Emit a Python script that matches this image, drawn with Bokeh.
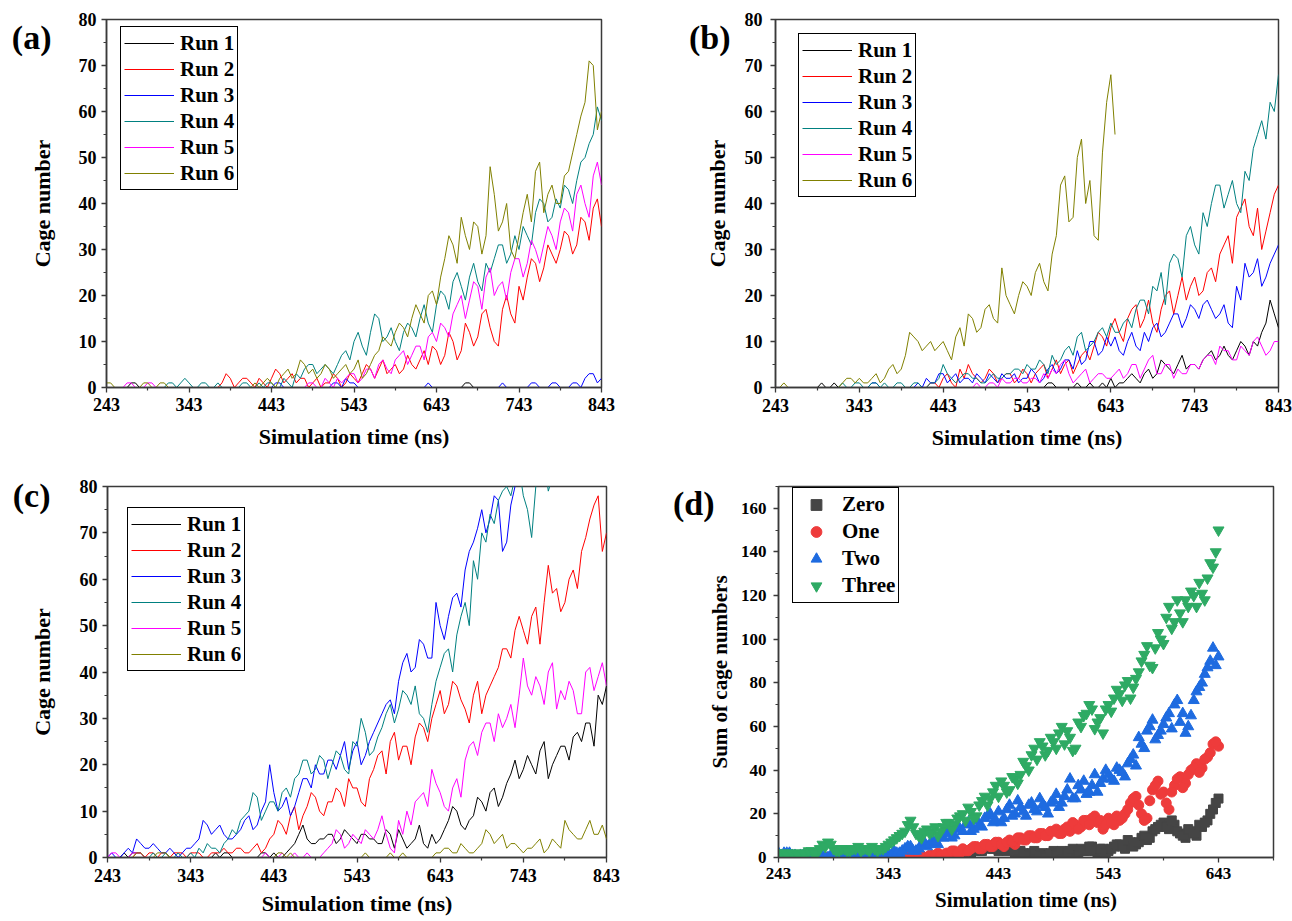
from bokeh.plotting import figure
from bokeh.models import Range1d, FixedTicker, LinearAxis
from bokeh.layouts import column, row
from bokeh.embed import file_html
from bokeh.resources import INLINE

nan = float("nan")
FONT = "Liberation Serif"

# ---------------- data ----------------
time_runs = list(range(243, 844, 10))       # 61 sample times, panels a-c
time_runs_mid = list(range(248, 839, 10))   # 60 in-between sample times, panels a-c
time_sum = list(range(243, 644, 5))         # 81 sample times, panel d
time_sum_mid = [t + 2.5 for t in range(243, 641, 5)]  # 80 in-between sample times

run_labels = ["Run 1", "Run 2", "Run 3", "Run 4", "Run 5", "Run 6"]
run_colors = ["#000000", "#FF0000", "#0000FF", "#008080", "#FF00FF", "#808000"]

x_ticks_runs = [243, 343, 443, 543, 643, 743, 843]
x_minor_runs = [293, 393, 493, 593, 693, 793]
y_ticks_runs = [0, 10, 20, 30, 40, 50, 60, 70, 80]
y_minor_runs = [5, 15, 25, 35, 45, 55, 65, 75]

x_ticks_sum = [243, 343, 443, 543, 643]
x_minor_sum = [293, 393, 493, 593, 693]
y_ticks_sum = [0, 20, 40, 60, 80, 100, 120, 140, 160]
y_minor_sum = [10, 30, 50, 70, 90, 110, 130, 150, 170]

# panel (a)
a_run1 = [0,0,0,1,0,0,0,0,0,0, 0,0,0,0,0,0,0,0,0,0, 0,0,0,0,0,0,0,0,0,0,
          0,0,0,0,0,0,0,0,0,0, 0,0,0,0,1,0,0,0,0,0, 0,0,0,0,0,0,0,0,0,0, 0]
a_run1_mid = [0,0,0,1,0,0,0,0,0,0, 0,0,0,0,0,0,0,0,0,0, 0,0,0,0,0,0,0,0,0,0,
              0,0,0,0,0,0,0,0,0,0, 0,0,0,1,0,0,0,0,0,0, 0,0,0,0,0,0,0,0,0,0]
a_run2 = [0,0,0,0,0,0,0,0,0,0,
          0,0,0,0,1,2,1,2,0,1,
          2,3,2,1,2,1,0,1,2,1,
          2,3,4,4,3,5,4,5,6,5,
          8,7,10,8,12,11,17,10,17,16,
          22,24,27,26,29,30,33,31,36,39, 35]
a_run2_mid = [0,0,0,0,0,0,0,0,0,0,
              0,0,0,0,3,0,2,1,2,0,
              4,1,3,2,0,2,1,3,0,3,
              1,5,2,6,4,3,7,4,8,9,
              5,12,6,14,9,16,13,9,20,14,
              19,28,23,31,27,34,29,37,32,41]
a_run3 = [0,0,0,0,0,0,0,0,0,0,
          0,0,0,0,0,0,0,0,0,0,
          0,1,0,0,0,0,0,0,1,2,
          1,0,0,0,0,0,0,0,0,1,
          0,0,0,0,0,0,0,0,1,0,
          0,0,1,0,1,0,0,1,2,3, 2]
a_run3_mid = [0,0,0,0,0,0,0,0,0,0,
              0,0,0,0,0,0,0,0,0,0,
              1,0,0,0,0,0,0,1,0,1,
              0,0,0,0,0,0,0,0,0,0,
              0,0,0,0,0,0,0,0,0,0,
              0,1,0,0,1,0,1,0,3,1]
a_run4 = [0,0,0,0,0,0,0,0,1,1,
          1,0,1,0,0,0,0,1,0,0,
          1,0,1,3,4,5,4,4,5,8,
          10,9,12,15,11,10,12,13,15,14,
          18,20,23,22,24,23,27,28,31,29,
          30,33,38,40,37,39,43,45,50,55, 58]
a_run4_mid = [0,0,0,0,0,0,0,1,0,2,
              0,1,0,1,0,0,1,0,1,1,
              0,2,0,2,5,3,5,3,7,6,
              12,7,16,10,13,8,14,11,18,12,
              21,17,25,19,27,21,25,31,27,33,
              35,31,41,36,41,44,40,49,53,61]
a_run5 = [0,0,0,1,0,1,0,0,0,0,
          0,0,0,0,0,0,0,0,0,0,
          0,0,0,0,0,1,0,1,2,2,
          3,2,4,5,4,6,8,7,9,11,
          10,13,16,20,19,22,24,20,23,25,
          28,27,30,31,33,36,38,42,40,46, 44]
a_run5_mid = [0,0,1,0,0,1,0,0,0,0,
              0,0,0,0,0,0,0,0,0,0,
              0,0,0,0,1,0,2,0,1,3,
              1,4,2,6,3,7,5,9,6,12,
              14,11,18,15,23,17,26,22,19,28,
              24,32,27,35,30,39,34,44,37,49]
a_run6 = [1,0,0,0,0,1,0,1,0,0,
          0,0,0,0,0,0,0,0,1,1,
          1,2,4,3,5,4,3,4,3,5,
          4,2,5,8,10,12,13,15,16,20,
          18,28,31,37,30,35,33,42,36,30,
          33,42,47,38,44,40,47,55,62,70, 60]
a_run6_mid = [1,0,0,0,1,0,1,0,0,0,
              0,0,0,0,0,0,0,0,0,2,
              0,3,2,6,3,2,5,2,4,3,
              6,3,7,11,9,14,11,18,14,21,
              24,33,27,33,36,29,48,34,40,28,
              38,36,49,42,40,46,51,59,71,56]

# panel (b)
b_run1 = [0,0,0,0,0,0,0,1,0,0,
          0,0,0,0,0,0,0,0,0,0,
          0,0,0,0,0,0,0,0,0,0,
          0,0,0,1,0,0,1,0,0,1,
          2,1,2,2,3,2,6,4,5,4,
          5,6,8,7,7,8,9,10,12,19, 13]
b_run1_mid = [0,0,0,0,0,1,0,0,0,0,
              0,0,0,0,0,0,0,0,0,0,
              0,0,0,0,0,0,0,0,0,0,
              0,0,1,0,0,0,0,1,0,0,
              0,1,3,1,4,3,5,3,7,5,
              4,7,6,9,6,10,7,9,14,16]
b_run2 = [0,0,0,0,0,0,0,0,0,0,
          0,0,0,0,0,0,0,0,0,1,
          2,1,4,5,2,2,3,2,3,2,
          3,3,5,4,3,6,5,8,9,11,
          13,12,15,18,15,14,17,21,20,19,
          24,21,26,29,33,37,41,33,30,38, 44]
b_run2_mid = [0,0,0,0,0,0,0,0,0,0,
              0,0,0,0,0,0,0,0,1,0,
              3,0,2,3,1,4,1,3,1,4,
              1,4,2,6,5,3,7,6,12,9,
              15,10,17,13,19,12,20,16,24,22,
              20,25,23,31,27,39,35,39,34,42]
b_run3 = [0,0,0,0,0,0,0,0,0,0,
          0,0,1,0,0,0,0,1,2,1,
          3,2,1,2,3,1,2,3,2,1,
          2,3,2,5,4,6,8,6,10,8,
          9,8,10,9,12,13,11,14,16,15,
          17,18,17,16,14,22,27,25,22,27, 31]
b_run3_mid = [0,0,0,0,0,0,0,0,0,0,
              0,1,0,0,0,0,0,0,1,3,
              1,3,2,1,2,3,1,2,3,2,
              4,1,4,3,6,4,5,10,7,11,
              11,7,12,8,10,14,12,16,13,18,
              15,19,15,18,13,19,24,28,24,29]
b_run4 = [0,0,0,0,0,0,0,0,1,0,
          1,0,1,1,0,1,0,1,0,1,
          5,2,2,3,2,1,3,2,3,4,
          5,4,5,7,6,9,11,8,10,13,
          14,12,15,17,19,22,25,27,28,33,
          31,38,40,44,42,40,47,52,58,62, 68]
b_run4_mid = [0,0,0,0,0,0,0,0,0,1,
              0,1,0,0,1,0,1,0,1,2,
              3,1,3,2,1,2,2,3,4,3,
              4,6,3,5,8,7,12,9,12,11,
              12,14,13,19,16,21,18,29,24,35,
              29,35,44,39,45,38,45,55,54,60]
b_run5 = [0,0,0,0,0,0,0,0,0,0,
          0,0,0,0,0,0,0,0,0,0,
          0,0,0,0,1,0,1,2,1,2,
          1,2,3,4,5,3,2,4,2,3,
          2,4,3,5,4,7,3,5,4,3,
          5,6,7,9,8,6,8,10,9,8, 10]
b_run5_mid = [0,0,0,0,0,0,0,0,0,0,
              0,0,0,0,0,0,0,0,0,0,
              0,0,0,0,0,1,0,1,2,1,
              2,1,2,3,6,1,3,1,3,2,
              3,2,5,2,6,3,5,2,3,5,
              4,7,5,8,6,9,7,11,7,10]
b_run6 = [0,1,0,0,0,0,0,0,1,2,
          2,1,3,2,5,4,12,10,9,8,
          10,6,13,16,12,17,15,26,18,20,
          22,25,23,29,44,36,50,40,33,51,
          68,nan,nan,nan,nan,nan,nan,nan,nan,nan,
          nan,nan,nan,nan,nan,nan,nan,nan,nan,nan, nan]
b_run6_mid = [0,0,0,0,0,0,0,0,2,1,
              1,2,1,4,3,7,11,8,10,9,
              8,11,9,15,13,18,14,20,16,23,
              20,27,21,33,46,37,54,45,32,62,
              55,nan,nan,nan,nan,nan,nan,nan,nan,nan,
              nan,nan,nan,nan,nan,nan,nan,nan,nan,nan]

# panel (c)
c_run1 = [0,0,1,1,1,0,0,0,0,0,
          0,0,0,1,1,0,0,0,0,1,
          1,0,2,5,4,3,4,5,4,5,
          3,5,4,3,5,6,2,4,3,5,
          4,8,10,6,9,12,14,11,16,21,
          19,20,23,17,22,24,26,25,29,35, 37]
c_run1_mid = [0,0,0,1,0,0,0,0,0,0,
              0,0,0,0,1,0,0,0,1,0,
              0,1,3,7,3,4,5,3,6,4,
              5,4,3,6,2,4,3,7,2,3,
              6,11,7,8,13,10,15,13,18,17,
              22,18,25,20,24,21,27,29,24,33]
c_run2 = [0,0,0,0,1,1,0,1,1,1,
          1,1,0,1,2,1,2,1,3,2,
          5,7,9,6,11,13,9,12,14,17,
          15,11,19,23,25,21,24,26,28,30,
          36,33,37,32,35,31,37,41,45,49,
          49,52,46,63,58,55,62,66,73,78, 70]
c_run2_mid = [0,0,0,1,0,1,1,0,1,0,
              1,0,1,1,1,2,1,2,1,4,
              8,5,11,9,14,10,12,15,11,15,
              12,17,22,18,27,24,20,29,25,33,
              31,38,34,29,38,35,39,45,43,52,
              46,54,55,57,53,60,58,69,76,66]
c_run3 = [0,0,1,1,3,2,2,1,1,1,
          2,4,7,6,5,4,6,9,7,12,
          14,11,9,14,17,20,18,21,22,19,
          25,22,27,31,34,38,44,41,46,43,
          50,52,57,62,68,75,73,77,68,80,
          84,88,90,92,94,95,96,97,98,99, 100]
c_run3_mid = [1,0,2,4,2,3,1,2,0,2,
              3,8,5,7,4,5,8,6,10,20,
              10,13,11,17,15,18,21,19,25,23,
              20,25,29,33,31,42,40,47,43,55,
              47,56,54,66,71,70,78,66,76,83,
              86,89,91,93,94,96,97,98,99,100]
c_run4 = [0,0,0,0,0,0,0,1,0,0,
          1,2,3,2,3,6,8,10,13,10,
          12,14,13,18,21,19,21,20,22,18,
          24,27,23,28,33,32,35,37,30,33,
          41,45,48,55,64,70,74,77,80,82,
          78,69,84,79,88,90,92,94,96,98, 100]
c_run4_mid = [0,0,0,0,0,1,0,0,1,0,
              0,1,2,1,4,5,9,14,8,12,
              10,15,17,21,18,22,17,23,19,25,
              30,22,26,31,29,36,33,31,27,38,
              44,40,52,50,60,68,72,79,78,84,
              75,80,86,82,90,91,93,95,97,99]
c_run5 = [0,1,0,1,1,0,0,0,0,0,
          0,0,0,0,0,0,0,0,0,1,
          0,1,0,0,1,0,1,3,5,3,
          4,6,4,9,2,8,10,12,14,19,
          14,10,17,21,25,27,29,31,30,28,
          43,35,37,40,32,34,36,31,41,39, 37]
c_run5_mid = [1,0,0,1,0,0,0,0,0,0,
              0,0,0,0,0,0,0,0,0,0,
              0,0,1,0,0,0,2,6,2,5,
              3,5,6,5,1,5,7,13,11,16,
              11,15,13,24,22,29,25,28,33,35,
              37,39,33,42,36,38,31,40,36,42]
c_run6 = [0,0,0,0,1,0,1,1,0,0,
          0,0,0,0,0,0,0,0,0,0,
          0,1,1,0,0,0,0,0,0,0,
          0,1,0,0,1,0,0,0,0,0,
          1,2,1,2,1,3,5,4,2,3,
          1,2,4,2,3,8,5,4,8,5, 4]
c_run6_mid = [0,0,0,1,0,0,1,0,0,0,
              0,0,0,0,0,0,0,0,0,0,
              1,0,0,0,0,0,0,0,0,0,
              0,0,0,0,0,1,0,0,0,1,
              2,1,3,1,2,6,3,5,3,2,
              2,3,1,4,2,6,4,6,5,7]

# panel (d): values at time_sum and at the in-between times time_sum_mid
sum_labels = ["Zero", "One", "Two", "Three"]
sum_colors = ["#454545", "#EE3B3B", "#1E6BE0", "#2EAA64"]
d_zero = [0,0,0,0,0,0,0,0,0,0,
          0,0,0,0,0,0,0,0,0,0,
          0,0,0,0,0,0,0,0,0,0,
          0,1,2,1,3,2,4,3,5,4,
          3,5,4,2,3,1,2,0,2,1,
          3,2,1,3,2,4,3,5,2,4,
          3,5,6,4,7,6,9,8,12,14,
          16,13,15,11,9,12,10,14,17,22, 27]
d_one = [0,0,0,0,0,0,0,0,0,0,
         0,0,0,0,0,0,0,0,0,0,
         0,0,0,0,0,0,1,0,1,2,
         1,2,3,2,3,4,5,4,6,5,
         7,5,8,6,9,8,10,9,11,10,
         12,11,13,12,15,14,17,18,16,13,
         18,15,17,20,25,28,20,18,31,35,
         30,22,33,37,34,40,43,41,46,52, 51]
d_two = [2,2,2,1,1,0,1,0,1,0,
         0,1,0,0,1,0,0,0,1,0,
         2,3,2,4,5,3,6,5,8,6,
         9,12,10,13,15,12,17,14,19,16,
         21,18,24,20,23,19,25,21,24,20,
         26,23,28,36,27,31,29,33,30,36,
         38,35,40,37,45,42,52,58,63,56,
         61,66,70,62,57,65,76,80,87,96, 92]
d_three = [1,2,1,2,1,2,3,2,6,7,
           4,3,4,3,4,3,4,5,3,4,
           6,8,10,12,17,11,9,13,12,10,
           14,16,15,19,17,21,19,26,24,30,
           28,33,31,36,38,42,47,45,51,49,
           53,57,52,55,50,60,66,68,62,57,
           70,73,75,79,73,82,90,97,87,103,
           98,115,108,112,118,122,115,121,128,133, 150]
d_zero_mid = [0,0,0,0,0,0,0,0,0,0,
              0,0,0,0,0,0,0,0,0,0,
              0,0,0,0,0,0,0,0,0,1,
              1,1,2,3,2,4,3,5,4,6,
              4,3,5,3,2,1,3,1,0,2,
              1,3,2,4,1,3,5,3,4,2,
              4,6,5,8,5,7,10,9,13,15,
              14,17,12,10,13,11,15,16,20,25]
d_one_mid = [0,0,0,0,0,0,0,0,0,0,
             0,0,0,0,0,0,0,0,0,0,
             0,0,0,0,0,1,0,1,1,1,
             2,3,2,4,3,5,4,6,5,7,
             6,7,7,9,8,10,9,11,10,12,
             13,11,14,16,13,17,15,19,17,15,
             16,19,18,22,27,24,17,26,33,29,
             25,30,36,32,38,41,39,45,48,53]
d_two_mid = [1,2,1,0,1,0,0,1,0,1,
             0,0,1,0,0,0,1,0,0,1,
             1,2,3,5,3,4,7,6,7,9,
             11,9,14,12,16,13,15,18,20,17,
             16,22,19,26,21,24,22,27,23,25,
             29,25,31,27,33,35,30,38,34,40,
             36,41,39,43,47,55,50,60,54,58,
             64,59,72,66,60,72,78,84,90,88]
d_three_mid = [2,1,2,1,2,3,2,4,5,6,
               3,4,3,4,5,4,3,4,4,5,
               7,9,11,15,14,10,12,11,14,12,
               16,13,18,20,23,18,24,28,27,33,
               35,30,37,34,44,40,50,53,47,55,
               50,60,58,49,62,65,70,59,64,68,
               67,77,72,81,78,85,93,88,96,100,
               110,105,118,108,115,120,126,118,135,140]

# panel letters and the y value of each panel at which its letter sits
letters = ["(a)", "(b)", "(c)", "(d)"]
letter_at = [76, 76, 78, 162]

# ---------------- helpers ----------------
AX_COLOR = "#3a3a3a"


def interleave(main, mid):
    out = []
    for i, v in enumerate(main):
        out.append(v)
        if i < len(mid):
            out.append(mid[i])
    return out


time_runs_all = interleave(time_runs, time_runs_mid)


def make_fig(width, height, left, right, top, bottom, xr, yr):
    p = figure(width=width, height=height, output_backend="svg", toolbar_location=None,
               x_range=Range1d(*xr), y_range=Range1d(*yr),
               min_border_left=left, min_border_right=right,
               min_border_top=top, min_border_bottom=bottom)
    p.xgrid.visible = False
    p.ygrid.visible = False
    p.outline_line_color = AX_COLOR
    p.outline_line_width = 1.5
    p.outline_line_alpha = 1.0
    p.background_fill_color = "white"
    p.border_fill_color = "white"
    return p


def style_axes(p, xt, xm, yt, ym, tick_size, label_size, xlabel, ylabel,
               x_std, x_lstd, y_std, y_lstd):
    p.xaxis.ticker = FixedTicker(ticks=xt, minor_ticks=xm)
    p.yaxis.ticker = FixedTicker(ticks=yt, minor_ticks=ym)
    p.xaxis.axis_label = xlabel
    p.yaxis.axis_label = ylabel
    for ax in (p.xaxis[0], p.yaxis[0]):
        ax.axis_line_color = AX_COLOR
        ax.axis_line_width = 1.5
        ax.major_tick_line_color = AX_COLOR
        ax.minor_tick_line_color = AX_COLOR
        ax.major_tick_line_width = 1.3
        ax.minor_tick_line_width = 1.2
        ax.major_tick_out = 5
        ax.major_tick_in = 0
        ax.minor_tick_out = 3
        ax.minor_tick_in = 0
        ax.major_label_text_font = FONT
        ax.major_label_text_font_style = "bold"
        ax.major_label_text_font_size = tick_size
        ax.major_label_text_color = "black"
        ax.axis_label_text_font = FONT
        ax.axis_label_text_font_style = "bold"
        ax.axis_label_text_font_size = label_size
        ax.axis_label_text_color = "black"
    p.xaxis.major_label_standoff = x_std
    p.xaxis.axis_label_standoff = x_lstd
    p.yaxis.major_label_standoff = y_std
    p.yaxis.axis_label_standoff = y_lstd


def style_legend(p, loc, gw, gh, font_size, padding, spacing):
    lg = p.legend[0]
    lg.location = loc
    lg.border_line_color = "black"
    lg.border_line_width = 1.5
    lg.border_line_alpha = 1.0
    lg.background_fill_alpha = 1.0
    lg.label_text_font = FONT
    lg.label_text_font_style = "bold"
    lg.label_text_font_size = font_size
    lg.label_text_color = "black"
    lg.glyph_width = gw
    lg.glyph_height = gh
    lg.label_height = gh
    lg.label_standoff = 6
    lg.padding = padding
    lg.spacing = spacing
    lg.margin = 0


def panel_letter(p, letter, at, standoff):
    # an extra, line-less left axis whose single tick label is the panel letter
    ax = LinearAxis(ticker=FixedTicker(ticks=[at], minor_ticks=[]),
                    major_label_overrides={at: letter})
    ax.axis_line_color = None
    ax.major_tick_line_color = None
    ax.minor_tick_line_color = None
    ax.major_tick_out = 0
    ax.major_tick_in = 0
    ax.minor_tick_out = 0
    ax.minor_tick_in = 0
    ax.major_label_standoff = standoff
    ax.major_label_text_font = FONT
    ax.major_label_text_font_style = "bold"
    ax.major_label_text_font_size = "34px"
    ax.major_label_text_color = "black"
    p.add_layout(ax, "left")


def run_panel(series, mids, width, height, left, right, top, bottom, legend_loc, k, letter_std,
              x_std, x_lstd, y_std, y_lstd):
    p = make_fig(width, height, left, right, top, bottom, (243, 843), (0, 80))
    for vals, mid, lab, col in zip(series, mids, run_labels, run_colors):
        p.line(time_runs_all, interleave(vals, mid), line_color=col, line_width=1,
               legend_label=lab)
    style_axes(p, x_ticks_runs, x_minor_runs, y_ticks_runs, y_minor_runs, "18px", "22px",
               "Simulation time (ns)", "Cage number", x_std, x_lstd, y_std, y_lstd)
    style_legend(p, legend_loc, 50, 26, "21px", 3, 0)
    panel_letter(p, letters[k], letter_at[k], letter_std)
    return p


pa = run_panel([a_run1, a_run2, a_run3, a_run4, a_run5, a_run6],
               [a_run1_mid, a_run2_mid, a_run3_mid, a_run4_mid, a_run5_mid, a_run6_mid],
               680, 466, 106, 79, 19, 79, (14, 197), 0, -25, 5, 10, 5, 21)
pb = run_panel([b_run1, b_run2, b_run3, b_run4, b_run5, b_run6],
               [b_run1_mid, b_run2_mid, b_run3_mid, b_run4_mid, b_run5_mid, b_run6_mid],
               612, 466, 95, 14, 17, 74, (23, 190), 1, -29, 6, 10, 8, 12)
pc = run_panel([c_run1, c_run2, c_run3, c_run4, c_run5, c_run6],
               [c_run1_mid, c_run2_mid, c_run3_mid, c_run4_mid, c_run5_mid, c_run6_mid],
               665, 455, 107, 59, 20, 64, (20, 186), 2, -24, 6, 6, 5, 22)

pd_ = make_fig(627, 455, 113, 19, 19, 62, (243, 693), (0, 170))
marker_kinds = ["square", "circle", "triangle", "inverted_triangle"]
marker_sizes = [9, 10, 11, 11]
for vals, vals_mid, lab, col, mk, sz in zip([d_zero, d_one, d_two, d_three],
                                            [d_zero_mid, d_one_mid, d_two_mid, d_three_mid],
                                            sum_labels, sum_colors, marker_kinds, marker_sizes):
    pd_.scatter(time_sum, vals, marker=mk, size=sz, fill_color=col, line_color=col,
                legend_label=lab)
    pd_.scatter(time_sum_mid, vals_mid, marker=mk, size=sz, fill_color=col, line_color=col)
style_axes(pd_, x_ticks_sum, x_minor_sum, y_ticks_sum, y_minor_sum, "17px", "21px",
           "Simulation time (ns)", "Sum of cage numbers", 5, 6, 7, 6)
style_legend(pd_, (14, 254), 40, 27, "21px", 3, 0)
panel_letter(pd_, letters[3], letter_at[3], -10)

layout = column(row(pa, pb), row(pc, pd_))
open("out.html", "w").write(file_html(layout, INLINE))
